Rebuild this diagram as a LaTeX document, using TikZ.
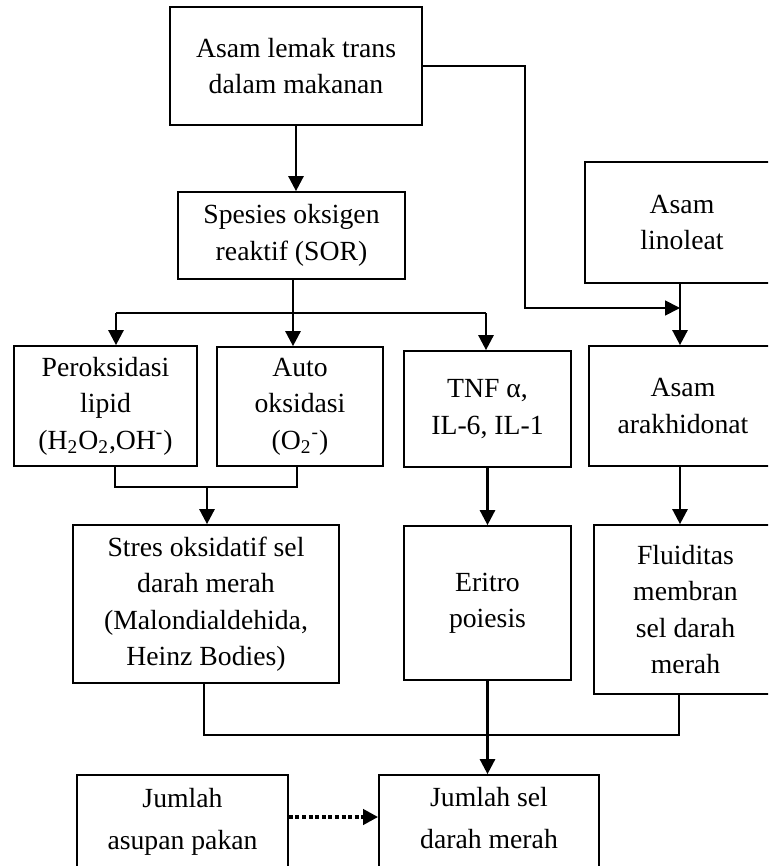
\documentclass[tikz,border=0pt]{standalone}
\usepackage{fontspec}
\setmainfont{Liberation Serif}
\usetikzlibrary{arrows.meta}

\tikzstyle{box} = [draw, line width=0.85pt, align=center, inner sep=0pt, font=\fontsize{13.85}{18.2}\selectfont]
\tikzstyle{ln} = [line width=0.75pt]
\tikzstyle{arr} = [line width=1.3pt, -{Triangle[width=7.5pt,length=7.5pt]}]

\begin{document}
\begin{tikzpicture}[x=0.5pt, y=-0.5pt]

\useasboundingbox (0,0) rectangle (768,866);
\clip (0,0) rectangle (768,866);

%TOP
\node[box, minimum width=126pt, minimum height=59pt] (lemak) at (296,66) {Asam lemak trans\\dalam makanan};
\node[box, minimum width=113.5pt, minimum height=43.5pt] (sor) at (291.5,235.5) {Spesies oksigen\\reaktif (SOR)};
\node[box, minimum width=97pt, minimum height=60.5pt] (linoleat) at (682,222.5) {Asam\\linoleat};

%ROW2
\node[box, minimum width=91.5pt, minimum height=60pt] (perok) at (105.5,406) {Peroksidasi\\lipid\\(H\textsubscript{2}O\textsubscript{2},OH\textsuperscript{-})};
\node[box, minimum width=83pt, minimum height=59.5pt] (auto) at (300,406.5) {Auto\\oksidasi\\(O\textsubscript{2}\textsuperscript{-})};
\node[box, minimum width=83.5pt, minimum height=58pt] (tnf) at (487.5,409) {TNF α,\\IL-6, IL-1};
\node[box, minimum width=94pt, minimum height=60pt] (arak) at (683,406) {Asam\\arakhidonat};

%ROW3
\node[box, minimum width=133pt, minimum height=79pt] (stres) at (206,604) {Stres oksidatif sel\\darah merah\\(Malondialdehida,\\Heinz Bodies)};
\node[box, minimum width=83.5pt, minimum height=77pt] (eritro) at (487.5,603) {Eritro\\poiesis};
\node[box, minimum width=91.5pt, minimum height=84.5pt] (fluid) at (685.5,609.5) {Fluiditas\\membran\\sel darah\\merah};

%BOTTOM
\node[box, minimum width=105.5pt, minimum height=49pt] (asupan) at (182.5,824) {Jumlah\\[3pt]asupan pakan\rule[-5pt]{0pt}{0pt}};
\node[box, minimum width=110pt, minimum height=48pt] (jumlah) at (489,823) {Jumlah sel\\[3pt]darah merah\rule[-5pt]{0pt}{0pt}};

%ARROWS
\coordinate (j) at (680,308);
\coordinate (c1) at (525,308);
\draw[arr, line width=0.85pt] (lemak.east) -| (c1) -- (j);
\draw[arr] (lemak.south) -- (lemak.south |- sor.north);
\draw[arr] (linoleat.south -| j) -- (arak.north -| j);

\coordinate (b) at (293,313);
\coordinate (b1) at (116,313);
\coordinate (b3) at (486,313);
\draw[line width=1.3pt] (sor.south -| b) -- (b);
\draw[ln] (b1) -- (b3);
\draw[arr] (b1) -- (b1 |- perok.north);
\draw[arr] (b) -- (b |- auto.north);
\draw[arr] (b3) -- (b3 |- tnf.north);

\coordinate (m1) at (115,487);
\coordinate (m2) at (297,487);
\coordinate (m) at (207,487);
\draw[ln] (perok.south -| m1) -- (m1) -- (m2) -- (auto.south -| m2);
\draw[arr] (m) -- (m |- stres.north);

\draw[arr] (tnf.south) -- (eritro.north);
\draw[arr] (arak.south -| j) -- (fluid.north -| j);

\coordinate (k1) at (204,735);
\coordinate (k2) at (679,735);
\draw[ln] (stres.south -| k1) -- (k1) -- (k2) -- (fluid.south -| k2);
\draw[arr] (eritro.south) -- (eritro.south |- jumlah.north);

\coordinate (d) at (288,817);
\draw[arr, line width=2pt, dash pattern=on 2pt off 1.3pt] (asupan.east |- d) -- (jumlah.west |- d);

\end{tikzpicture}
\end{document}
